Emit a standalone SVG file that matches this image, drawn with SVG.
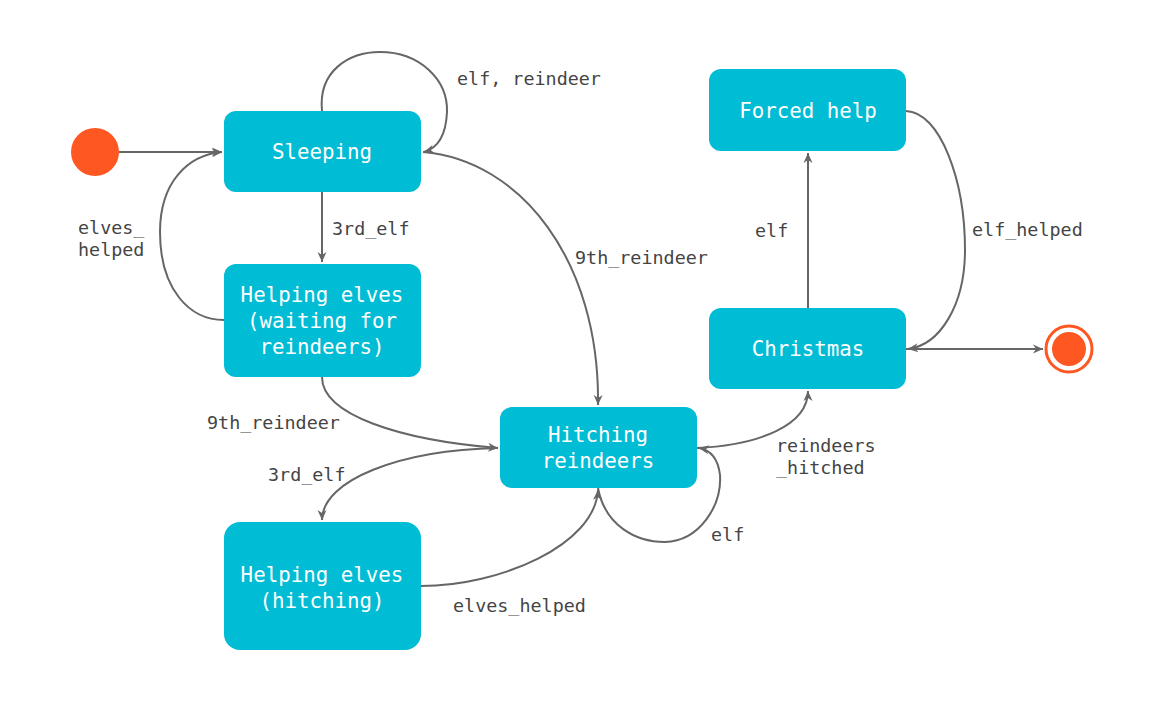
<svg xmlns="http://www.w3.org/2000/svg" width="1165" height="702" viewBox="0 0 1165 702">
<defs>
<style>
.node rect{fill:#00BCD4;}
.node text{fill:#fff;font-family:"DejaVu Sans Mono","Liberation Mono",monospace;font-size:20.8px;text-anchor:middle;dominant-baseline:central;}
.edges path{fill:none;stroke:#666;stroke-width:2;}
.lbl{fill:#444;font-family:"DejaVu Sans Mono","Liberation Mono",monospace;font-size:18.4px;dominant-baseline:central;}
</style>
<marker id="arr" viewBox="0 0 12 12" refX="11" refY="6" markerWidth="12" markerHeight="12" markerUnits="userSpaceOnUse" orient="auto">
<path d="M1,1.5 L11,6 L1,10.5 L4,6 Z" fill="#666"/>
</marker>
</defs>
<rect width="1165" height="702" fill="#fff"/>
<g class="edges">
<path d="M119,152 L222,152" marker-end="url(#arr)"/>
<path d="M322,111 C318,70 350,52 380,52 C420,52 448,80 447,112 C446,135 438,148 424,152" marker-end="url(#arr)"/>
<path d="M322,192 L322,262" marker-end="url(#arr)"/>
<path d="M224,320 C190,320 160,290 160,232 C160,182 188,155 222,152" marker-end="url(#arr)"/>
<path d="M423,152 C520,160 600,260 598,405" marker-end="url(#arr)"/>
<path d="M322,377 C322,415 400,440 498,448" marker-end="url(#arr)"/>
<path d="M498,448 C400,450 322,480 322,520" marker-end="url(#arr)"/>
<path d="M421,586 C500,586 595,545 598,490" marker-end="url(#arr)"/>
<path d="M598,488 C605,525 635,542 665,542 C700,541 722,505 720,475 C718,458 710,450 699,448" marker-end="url(#arr)"/>
<path d="M697,448 C760,445 808,425 808,391" marker-end="url(#arr)"/>
<path d="M808,308 L808,153" marker-end="url(#arr)"/>
<path d="M906,111 C940,112 965,180 965,250 C965,305 940,345 908,349" marker-end="url(#arr)"/>
<path d="M906,349 L1043,349" marker-end="url(#arr)"/>
</g>
<g id="labels">
<text class="lbl" x="457" y="78">elf, reindeer</text>
<text class="lbl" x="332" y="228">3rd_elf</text>
<text class="lbl" x="78" y="227">elves_</text>
<text class="lbl" x="78" y="249">helped</text>
<text class="lbl" x="575" y="257">9th_reindeer</text>
<text class="lbl" x="207" y="422">9th_reindeer</text>
<text class="lbl" x="268" y="474">3rd_elf</text>
<text class="lbl" x="453" y="605">elves_helped</text>
<text class="lbl" x="711" y="534">elf</text>
<text class="lbl" x="776" y="445">reindeers</text>
<text class="lbl" x="776" y="467">_hitched</text>
<text class="lbl" x="755" y="230">elf</text>
<text class="lbl" x="972" y="229">elf_helped</text>
</g>
<g id="initial"><circle cx="95" cy="152" r="24" fill="#FF5722"/></g>
<g id="final"><circle cx="1069" cy="349" r="23" fill="#fff" stroke="#FF5722" stroke-width="3"/><circle cx="1069" cy="349" r="17" fill="#FF5722"/></g>
<g id="sleeping" class="node"><rect x="224" y="111" width="197" height="81" rx="12"/><text x="322" y="152">Sleeping</text></g>
<g id="helping-waiting" class="node"><rect x="224" y="264" width="197" height="113" rx="12"/><text x="322" y="295">Helping elves</text><text x="322" y="321">(waiting for</text><text x="322" y="347">reindeers)</text></g>
<g id="hitching" class="node"><rect x="500" y="407" width="197" height="81" rx="12"/><text x="598" y="435">Hitching</text><text x="598" y="461">reindeers</text></g>
<g id="helping-hitching" class="node"><rect x="224" y="522" width="197" height="128" rx="16"/><text x="322" y="575">Helping elves</text><text x="322" y="601">(hitching)</text></g>
<g id="forced-help" class="node"><rect x="709" y="69" width="197" height="82" rx="12"/><text x="808" y="111">Forced help</text></g>
<g id="christmas" class="node"><rect x="709" y="308" width="197" height="81" rx="12"/><text x="808" y="349">Christmas</text></g>
</svg>
